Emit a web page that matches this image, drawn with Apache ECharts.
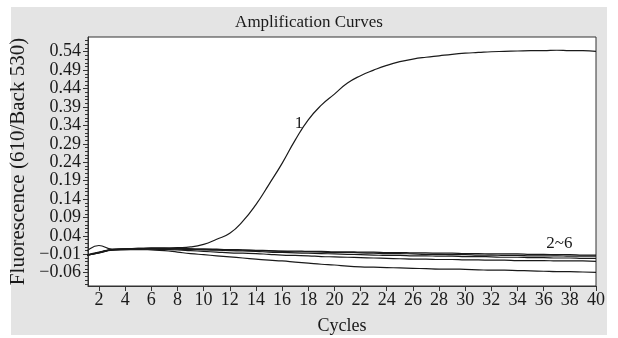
<!DOCTYPE html>
<html>
<head>
<meta charset="utf-8">
<script src="https://cdn.jsdelivr.net/npm/echarts@6.0.0/dist/echarts.min.js"></script>
<style>
  html, body { margin: 0; padding: 0; background: #fff; }
  #wrap { position: relative; width: 618px; height: 338px; }
  #panel { position: absolute; left: 11px; top: 7px; width: 596px; height: 328px; background: #e4e4e4; }
  #chart { position: absolute; left: 0; top: 0; width: 618px; height: 338px; }
</style>
</head>
<body>
<div id="wrap">
  <div id="panel"></div>
  <div id="chart"></div>
</div>
<script>
// cycle numbers
const cycles = [1, 2, 3, 4, 5, 6, 7, 8, 9, 10, 11, 12, 13, 14, 15, 16, 17, 18, 19, 20,
  21, 22, 23, 24, 25, 26, 27, 28, 29, 30, 31, 32, 33, 34, 35, 36, 37, 38, 39, 40];

// sample 1 (positive)
const sample1 = [-0.004, 0.014, 0.004, 0.005, 0.006, 0.007, 0.007, 0.008, 0.010, 0.017,
  0.031, 0.047, 0.080, 0.125, 0.180, 0.237, 0.300, 0.355, 0.395, 0.425,
  0.455, 0.475, 0.490, 0.503, 0.513, 0.520, 0.525, 0.529, 0.533, 0.536,
  0.538, 0.540, 0.541, 0.542, 0.543, 0.543, 0.544, 0.543, 0.543, 0.541];

// samples 2-6 (negative)
const sample2 = [-0.012, -0.004, 0.003, 0.004, 0.005, 0.006, 0.006, 0.007, 0.005, 0.004,
  0.003, 0.003, 0.002, 0.001, 0.000, -0.001, -0.001, -0.002, -0.002, -0.003,
  -0.003, -0.004, -0.004, -0.005, -0.005, -0.006, -0.006, -0.007, -0.007, -0.008,
  -0.008, -0.009, -0.009, -0.009, -0.010, -0.010, -0.011, -0.011, -0.012, -0.012];
const sample3 = [-0.013, -0.006, 0.002, 0.004, 0.005, 0.005, 0.005, 0.004, 0.003, 0.002,
  0.001, 0.000, -0.001, -0.002, -0.004, -0.005, -0.006, -0.007, -0.008, -0.009,
  -0.010, -0.011, -0.012, -0.013, -0.013, -0.014, -0.014, -0.015, -0.015, -0.016,
  -0.016, -0.017, -0.018, -0.018, -0.019, -0.019, -0.020, -0.020, -0.021, -0.021];
const sample4 = [-0.014, -0.005, 0.002, 0.003, 0.004, 0.004, 0.003, 0.002, 0.000, -0.002,
  -0.004, -0.006, -0.007, -0.008, -0.010, -0.012, -0.013, -0.014, -0.016, -0.017,
  -0.018, -0.019, -0.020, -0.021, -0.022, -0.023, -0.023, -0.024, -0.024, -0.025,
  -0.025, -0.026, -0.026, -0.027, -0.027, -0.027, -0.028, -0.028, -0.028, -0.029];
const sample5 = [-0.013, -0.005, 0.003, 0.005, 0.006, 0.007, 0.007, 0.006, 0.005, 0.004,
  0.004, 0.002, 0.001, 0.000, -0.001, -0.002, -0.003, -0.003, -0.004, -0.005,
  -0.005, -0.006, -0.007, -0.008, -0.008, -0.009, -0.010, -0.010, -0.011, -0.011,
  -0.012, -0.012, -0.013, -0.013, -0.014, -0.014, -0.014, -0.015, -0.015, -0.015];
const sample6 = [-0.013, -0.006, 0.001, 0.003, 0.003, 0.002, 0.000, -0.004, -0.008, -0.011,
  -0.014, -0.017, -0.020, -0.023, -0.026, -0.028, -0.031, -0.034, -0.037, -0.039,
  -0.042, -0.044, -0.045, -0.046, -0.047, -0.048, -0.049, -0.050, -0.050, -0.051,
  -0.052, -0.053, -0.053, -0.054, -0.055, -0.056, -0.057, -0.057, -0.058, -0.059];

// tick labels
const xTicks = [2, 4, 6, 8, 10, 12, 14, 16, 18, 20, 22, 24, 26, 28, 30, 32, 34, 36, 38, 40];
const yTicks = [-0.06, -0.01, 0.04, 0.09, 0.14, 0.19, 0.24, 0.29, 0.34, 0.39, 0.44, 0.49, 0.54];

// curve labels
const label1 = { text: '1', cycle: 17.3, value: 0.346 };
const label26 = { text: '2~6', cycle: 37.2, value: 0.02 };

const yMinorTicks = [];
for (let i = -9; i <= 57; i++) yMinorTicks.push(i / 100);

const font = '"Liberation Serif", "DejaVu Serif", serif';
const ink = '#1a1a1a';

const chart = echarts.init(document.getElementById('chart'));

const lineSeries = (name, values, extra) => Object.assign({
  name: name,
  type: 'line',
  data: cycles.map((c, i) => [c, values[i]]),
  showSymbol: false,
  smooth: 0.5,
  lineStyle: { color: ink, width: 1.2 },
  itemStyle: { color: ink },
  silent: true,
}, extra || {});

const curveLabel = (l) => ({
  symbol: 'circle',
  symbolSize: 0,
  silent: true,
  label: {
    show: true,
    position: 'inside',
    color: ink,
    fontFamily: font,
    fontSize: 17,
    formatter: l.text,
  },
  data: [{ coord: [l.cycle, l.value] }],
});

const option = {
  animation: false,
  backgroundColor: 'transparent',
  title: {
    text: 'Amplification Curves',
    left: 'center',
    top: 9,
    textStyle: { fontFamily: font, fontSize: 17, fontWeight: 'normal', color: ink },
  },
  grid: {
    left: 88,
    right: 22,
    top: 37,
    bottom: 52,
    show: true,
    backgroundColor: '#fff',
    borderColor: '#333',
    borderWidth: 1,
    containLabel: false,
    outerBoundsMode: 'none',
  },
  xAxis: {
    type: 'value',
    min: 1.16,
    max: 40,
    name: 'Cycles',
    nameLocation: 'middle',
    nameGap: 31,
    nameMoveOverlap: false,
    nameTextStyle: { fontFamily: font, fontSize: 18, color: ink },
    axisLine: { show: true, onZero: false, lineStyle: { color: '#333' } },
    axisTick: { show: true, inside: false, length: 5, customValues: xTicks, lineStyle: { color: '#333' } },
    axisLabel: {
      customValues: xTicks,
      margin: 5,
      fontFamily: font,
      fontSize: 18,
      color: ink,
      hideOverlap: false,
      showMinLabel: true,
      showMaxLabel: true,
    },
    splitLine: { show: false },
  },
  yAxis: [
    {
      type: 'value',
      min: -0.096,
      max: 0.58,
      name: 'Fluorescence (610/Back 530)',
      nameLocation: 'middle',
      nameGap: 59,
      nameMoveOverlap: false,
      nameTextStyle: { fontFamily: font, fontSize: 21, color: ink },
      axisLine: { show: true, onZero: false, lineStyle: { color: '#333' } },
      axisTick: { show: true, inside: false, length: 5, customValues: yTicks, lineStyle: { color: '#333' } },
      axisLabel: {
        customValues: yTicks,
        margin: 7,
        fontFamily: font,
        fontSize: 18,
        color: ink,
        hideOverlap: false,
        showMinLabel: true,
        showMaxLabel: true,
        formatter: (v) => (v < 0 ? '\u2212' : '') + Math.abs(v).toFixed(2),
      },
      splitLine: { show: false },
    },
    {
      type: 'value',
      min: -0.096,
      max: 0.58,
      position: 'left',
      axisLine: { show: false },
      axisTick: { show: true, inside: false, length: 3, customValues: yMinorTicks, lineStyle: { color: '#333' } },
      axisLabel: { show: false },
      splitLine: { show: false },
    },
  ],
  series: [
    lineSeries('1', sample1, { markPoint: curveLabel(label1) }),
    lineSeries('2', sample2, { markPoint: curveLabel(label26) }),
    lineSeries('3', sample3),
    lineSeries('4', sample4),
    lineSeries('5', sample5),
    lineSeries('6', sample6),
  ],
};

chart.setOption(option);
</script>
</body>
</html>
